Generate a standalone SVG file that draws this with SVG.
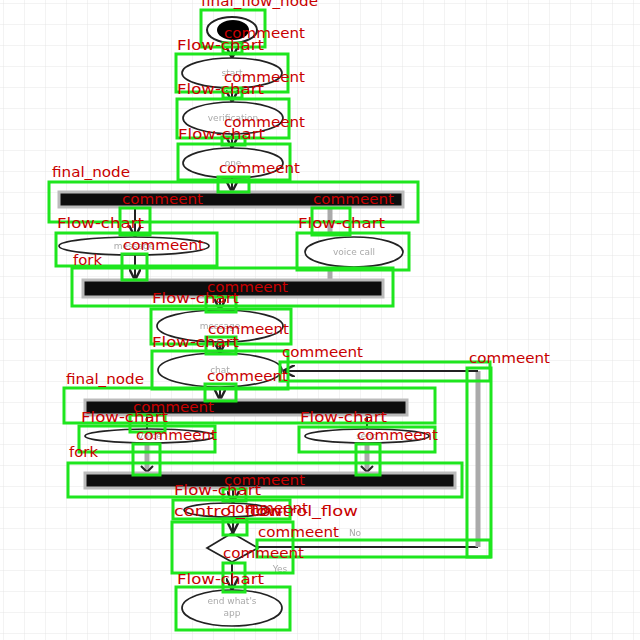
<svg xmlns="http://www.w3.org/2000/svg" width="640" height="640" viewBox="0 0 640 640">
  <defs>
    <pattern id="grid" width="21" height="21" patternUnits="userSpaceOnUse" x="4" y="4">
      <path d="M21 0V21H0" fill="none" stroke="#e6e6e6" stroke-width="1"/>
    </pattern>
    <filter id="soft" x="-5%" y="-5%" width="110%" height="110%">
      <feGaussianBlur stdDeviation="0.6"/>
    </filter>
    <marker id="ah" viewBox="0 0 10 10" refX="9" refY="5" markerWidth="6" markerHeight="6" orient="auto">
      <path d="M0 0L10 5L0 10" fill="none" stroke="#222" stroke-width="2"/>
    </marker>
    <style>
      .act { fill: #fff; stroke: #222; stroke-width: 1.7; }
      .bar { fill: #111; stroke: #bbb; stroke-width: 3; }
      .ln { stroke: #222; stroke-width: 2; fill: none; }
      .gl { stroke: #aaa; stroke-width: 5; fill: none; }
      .nt { font-family: "DejaVu Sans", sans-serif; font-size: 9px; fill: #aaa; text-anchor: middle; }
      .bx { fill: none; stroke: #1ee61e; stroke-width: 3; }
      .lb { font-family: "DejaVu Sans", sans-serif; font-size: 14px; fill: #c80000; }
    </style>
  </defs>

  <rect width="640" height="640" fill="#fff"/>
  <rect width="640" height="640" fill="url(#grid)"/>

  <!-- flowchart, slightly soft -->
  <g filter="url(#soft)">
    <g id="connectors">
      <line class="ln" x1="232" y1="43" x2="232" y2="57" marker-end="url(#ah)"/>
      <line class="ln" x1="232" y1="88" x2="232" y2="101" marker-end="url(#ah)"/>
      <line class="ln" x1="232" y1="134" x2="232" y2="147" marker-end="url(#ah)"/>
      <line class="ln" x1="232" y1="178" x2="232" y2="191" marker-end="url(#ah)"/>
      <line class="ln" x1="135" y1="207" x2="135" y2="236" marker-end="url(#ah)"/>
      <line class="gl" x1="330" y1="208" x2="330" y2="236"/>
      <line class="ln" x1="135" y1="255" x2="135" y2="279" marker-end="url(#ah)"/>
      <line class="gl" x1="330" y1="267" x2="330" y2="279"/>
      <line class="ln" x1="220" y1="297" x2="220" y2="309" marker-end="url(#ah)"/>
      <line class="ln" x1="220" y1="342" x2="220" y2="352" marker-end="url(#ah)"/>
      <line class="ln" x1="220" y1="387" x2="220" y2="399" marker-end="url(#ah)"/>
      <line class="ln" x1="147" y1="415" x2="147" y2="429"/>
      <line class="ln" x1="367" y1="415" x2="367" y2="429"/>
      <line class="gl" x1="147" y1="443" x2="147" y2="471"/>
      <line class="gl" x1="367" y1="443" x2="367" y2="471"/>
      <path class="ln" d="M141 466L147 472L153 466M361 466L367 472L373 466"/>
      <line class="ln" x1="233" y1="490" x2="233" y2="502" marker-end="url(#ah)"/>
      <line class="ln" x1="233" y1="518" x2="233" y2="532" marker-end="url(#ah)"/>
      <line class="ln" x1="232" y1="562" x2="232" y2="589" marker-end="url(#ah)"/>
      <!-- loop back from the decision to chat -->
      <path class="ln" d="M258 547H478"/>
      <line class="gl" x1="478" y1="371" x2="478" y2="547"/>
      <path class="ln" d="M478 371H284" marker-end="url(#ah)"/>
      <text class="nt" x="355" y="536">No</text>
      <text class="nt" x="280" y="572">Yes</text>
    </g>

    <g id="start">
      <ellipse cx="232" cy="30" rx="25" ry="13" fill="#fff" stroke="#222" stroke-width="2"/>
      <ellipse cx="233" cy="30" rx="16" ry="10" fill="#000"/>
    </g>
    <g id="step1">
      <ellipse class="act" cx="232" cy="73" rx="50" ry="15"/>
      <text class="nt" x="232" y="76">start</text>
    </g>
    <g id="step2">
      <ellipse class="act" cx="233" cy="118" rx="50" ry="16"/>
      <text class="nt" x="233" y="121">verification</text>
    </g>
    <g id="step3">
      <ellipse class="act" cx="233" cy="163" rx="50" ry="15"/>
      <text class="nt" x="233" y="166">one</text>
    </g>
    <g id="bar1"><rect class="bar" x="59" y="192" width="344" height="15"/></g>
    <g id="message1">
      <ellipse class="act" cx="134" cy="246" rx="75" ry="9"/>
      <text class="nt" x="134" y="249">message</text>
    </g>
    <g id="voicecall">
      <ellipse class="act" cx="354" cy="252" rx="49" ry="15"/>
      <text class="nt" x="354" y="255">voice call</text>
    </g>
    <g id="bar2"><rect class="bar" x="83" y="280" width="300" height="17"/></g>
    <g id="message2">
      <ellipse class="act" cx="220" cy="326" rx="63" ry="16"/>
      <text class="nt" x="220" y="329">message</text>
    </g>
    <g id="chat">
      <ellipse class="act" cx="220" cy="370" rx="62" ry="17"/>
      <text class="nt" x="220" y="373">chat</text>
    </g>
    <g id="bar3"><rect class="bar" x="85" y="400" width="322" height="15"/></g>
    <g id="voice">
      <ellipse class="act" cx="150" cy="436" rx="65" ry="7"/>
      <text class="nt" x="150" y="439" font-size="7">voice</text>
    </g>
    <g id="send">
      <ellipse class="act" cx="367" cy="436" rx="62" ry="7"/>
      <text class="nt" x="367" y="439" font-size="7">send</text>
    </g>
    <g id="bar4"><rect class="bar" x="85" y="473" width="370" height="15"/></g>
    <g id="step4">
      <ellipse class="act" cx="227" cy="510" rx="43" ry="7"/>
    </g>
    <g id="decision">
      <path class="act" d="M232 533L258 548L232 562L207 548Z"/>
    </g>
    <g id="end">
      <ellipse class="act" cx="232" cy="608" rx="50" ry="18"/>
      <text class="nt" x="232" y="604">end what's</text>
      <text class="nt" x="232" y="616">app</text>
    </g>
  </g>

  <!-- annotation boxes -->
  <g id="boxes">
    <rect class="bx" x="201" y="10" width="64" height="37"/>
    <rect class="bx" x="223" y="43" width="19" height="10"/>
    <rect class="bx" x="176" y="54" width="112" height="38"/>
    <rect class="bx" x="223" y="88" width="19" height="10"/>
    <rect class="bx" x="177" y="99" width="112" height="39"/>
    <rect class="bx" x="222" y="137" width="23" height="8"/>
    <rect class="bx" x="178" y="144" width="112" height="36"/>
    <rect class="bx" x="218" y="177" width="31" height="15"/>
    <rect class="bx" x="49" y="182" width="369" height="40"/>
    <rect class="bx" x="120" y="208" width="30" height="27"/>
    <rect class="bx" x="312" y="208" width="38" height="27"/>
    <rect class="bx" x="56" y="233" width="161" height="33"/>
    <rect class="bx" x="297" y="233" width="112" height="37"/>
    <rect class="bx" x="122" y="254" width="25" height="26"/>
    <rect class="bx" x="72" y="268" width="321" height="38"/>
    <rect class="bx" x="206" y="297" width="30" height="15"/>
    <rect class="bx" x="151" y="309" width="140" height="35"/>
    <rect class="bx" x="206" y="337" width="30" height="17"/>
    <rect class="bx" x="152" y="351" width="136" height="38"/>
    <rect class="bx" x="280" y="362" width="210" height="19"/>
    <rect class="bx" x="467" y="368" width="24" height="189"/>
    <rect class="bx" x="205" y="384" width="31" height="17"/>
    <rect class="bx" x="64" y="388" width="371" height="35"/>
    <rect class="bx" x="130" y="415" width="35" height="17"/>
    <rect class="bx" x="79" y="426" width="136" height="26"/>
    <rect class="bx" x="299" y="427" width="136" height="25"/>
    <rect class="bx" x="133" y="444" width="27" height="31"/>
    <rect class="bx" x="356" y="444" width="24" height="31"/>
    <rect class="bx" x="68" y="463" width="394" height="34"/>
    <rect class="bx" x="223" y="489" width="23" height="12"/>
    <rect class="bx" x="173" y="500" width="117" height="19"/>
    <rect class="bx" x="223" y="519" width="24" height="16"/>
    <rect class="bx" x="172" y="522" width="121" height="51"/>
    <rect class="bx" x="257" y="540" width="233" height="17"/>
    <rect class="bx" x="223" y="563" width="22" height="29"/>
    <rect class="bx" x="176" y="587" width="114" height="43"/>
  </g>

  <!-- annotation labels -->
  <g id="labels">
    <text class="lb" x="201" y="6" textLength="117" lengthAdjust="spacingAndGlyphs">final_flow_node</text>
    <text class="lb" x="224" y="38" textLength="81" lengthAdjust="spacingAndGlyphs">commeent</text>
    <text class="lb" x="177" y="50" textLength="87" lengthAdjust="spacingAndGlyphs">Flow-chart</text>
    <text class="lb" x="224" y="82" textLength="81" lengthAdjust="spacingAndGlyphs">commeent</text>
    <text class="lb" x="177" y="94" textLength="87" lengthAdjust="spacingAndGlyphs">Flow-chart</text>
    <text class="lb" x="224" y="127" textLength="81" lengthAdjust="spacingAndGlyphs">commeent</text>
    <text class="lb" x="178" y="139" textLength="87" lengthAdjust="spacingAndGlyphs">Flow-chart</text>
    <text class="lb" x="219" y="173" textLength="81" lengthAdjust="spacingAndGlyphs">commeent</text>
    <text class="lb" x="52" y="177" textLength="78" lengthAdjust="spacingAndGlyphs">final_node</text>
    <text class="lb" x="122" y="204" textLength="81" lengthAdjust="spacingAndGlyphs">commeent</text>
    <text class="lb" x="313" y="204" textLength="81" lengthAdjust="spacingAndGlyphs">commeent</text>
    <text class="lb" x="57" y="228" textLength="87" lengthAdjust="spacingAndGlyphs">Flow-chart</text>
    <text class="lb" x="298" y="228" textLength="87" lengthAdjust="spacingAndGlyphs">Flow-chart</text>
    <text class="lb" x="123" y="250" textLength="81" lengthAdjust="spacingAndGlyphs">commeent</text>
    <text class="lb" x="73" y="265" textLength="29" lengthAdjust="spacingAndGlyphs">fork</text>
    <text class="lb" x="207" y="292" textLength="81" lengthAdjust="spacingAndGlyphs">commeent</text>
    <text class="lb" x="152" y="303" textLength="87" lengthAdjust="spacingAndGlyphs">Flow-chart</text>
    <text class="lb" x="208" y="334" textLength="81" lengthAdjust="spacingAndGlyphs">commeent</text>
    <text class="lb" x="152" y="347" textLength="87" lengthAdjust="spacingAndGlyphs">Flow-chart</text>
    <text class="lb" x="282" y="357" textLength="81" lengthAdjust="spacingAndGlyphs">commeent</text>
    <text class="lb" x="469" y="363" textLength="81" lengthAdjust="spacingAndGlyphs">commeent</text>
    <text class="lb" x="207" y="381" textLength="81" lengthAdjust="spacingAndGlyphs">commeent</text>
    <text class="lb" x="66" y="384" textLength="78" lengthAdjust="spacingAndGlyphs">final_node</text>
    <text class="lb" x="133" y="412" textLength="81" lengthAdjust="spacingAndGlyphs">commeent</text>
    <text class="lb" x="81" y="422" textLength="87" lengthAdjust="spacingAndGlyphs">Flow-chart</text>
    <text class="lb" x="300" y="422" textLength="87" lengthAdjust="spacingAndGlyphs">Flow-chart</text>
    <text class="lb" x="136" y="440" textLength="81" lengthAdjust="spacingAndGlyphs">commeent</text>
    <text class="lb" x="357" y="440" textLength="81" lengthAdjust="spacingAndGlyphs">commeent</text>
    <text class="lb" x="69" y="457" textLength="29" lengthAdjust="spacingAndGlyphs">fork</text>
    <text class="lb" x="224" y="485" textLength="81" lengthAdjust="spacingAndGlyphs">commeent</text>
    <text class="lb" x="174" y="495" textLength="87" lengthAdjust="spacingAndGlyphs">Flow-chart</text>
    <text class="lb" x="174" y="516" textLength="108" lengthAdjust="spacingAndGlyphs">control_flow</text>
    <text class="lb" x="227" y="513" textLength="81" lengthAdjust="spacingAndGlyphs">commeent</text>
    <text class="lb" x="250" y="516" textLength="108" lengthAdjust="spacingAndGlyphs">control_flow</text>
    <text class="lb" x="258" y="537" textLength="81" lengthAdjust="spacingAndGlyphs">commeent</text>
    <text class="lb" x="223" y="558" textLength="81" lengthAdjust="spacingAndGlyphs">commeent</text>
    <text class="lb" x="177" y="584" textLength="87" lengthAdjust="spacingAndGlyphs">Flow-chart</text>
  </g>
</svg>
